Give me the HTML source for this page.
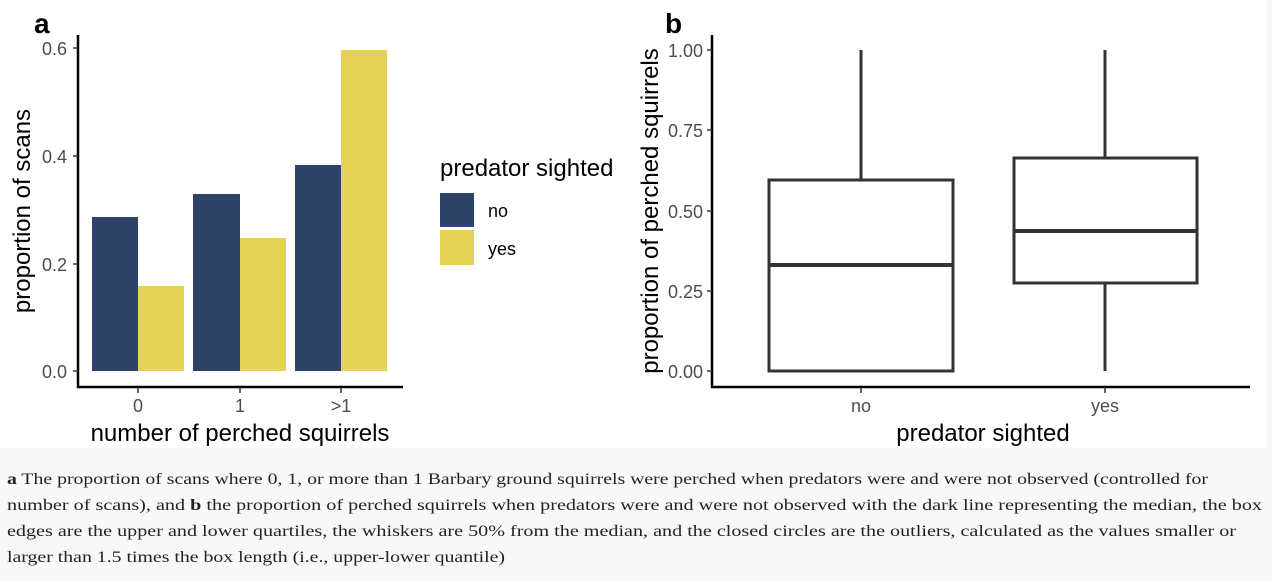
<!DOCTYPE html>
<html><head><meta charset="utf-8"><style>
html,body{margin:0;padding:0;background:#f8f8f8;}
svg{display:block;}
</style></head><body>
<svg width="1272" height="581" xmlns="http://www.w3.org/2000/svg" font-family="Liberation Sans, Arial, sans-serif">
<rect x="0" y="0" width="1272" height="581" fill="#f8f8f8"/>
<rect x="0" y="0" width="1266" height="448" fill="#ffffff"/>
<!-- Panel a -->
<text x="34" y="33" font-size="28" font-weight="bold" fill="#000">a</text>
<rect x="92" y="217" width="46" height="154" fill="#2f4369"/>
<rect x="138" y="286" width="46" height="85" fill="#e4d257"/>
<rect x="193" y="194" width="47" height="177" fill="#2f4369"/>
<rect x="240" y="238" width="46" height="133" fill="#e4d257"/>
<rect x="295" y="165" width="46" height="206" fill="#2f4369"/>
<rect x="341" y="50" width="46" height="321" fill="#e4d257"/>
<line x1="78" y1="35" x2="78" y2="388" stroke="#000" stroke-width="2.5"/>
<line x1="77" y1="387" x2="403" y2="387" stroke="#000" stroke-width="2.5"/>
<g stroke="#333" stroke-width="1.5">
<line x1="73" y1="48" x2="78" y2="48"/><line x1="73" y1="156" x2="78" y2="156"/>
<line x1="73" y1="264" x2="78" y2="264"/><line x1="73" y1="371" x2="78" y2="371"/>
<line x1="138" y1="387" x2="138" y2="393"/><line x1="240" y1="387" x2="240" y2="393"/><line x1="341" y1="387" x2="341" y2="393"/>
</g>
<g font-size="18" fill="#4d4d4d" text-anchor="end">
<text x="67" y="55">0.6</text><text x="67" y="163">0.4</text><text x="67" y="271">0.2</text><text x="67" y="378">0.0</text>
</g>
<g font-size="18" fill="#4d4d4d" text-anchor="middle">
<text x="138" y="412">0</text><text x="240" y="412">1</text><text x="341" y="412">&gt;1</text>
</g>
<text x="240" y="441" font-size="24" text-anchor="middle" fill="#000">number of perched squirrels</text>
<text transform="translate(30,211) rotate(-90)" font-size="24" text-anchor="middle" fill="#000">proportion of scans</text>
<text x="440" y="176" font-size="24" fill="#000">predator sighted</text>
<rect x="440" y="193" width="34" height="34" fill="#2f4369"/>
<rect x="440" y="230" width="34" height="35" fill="#e4d257"/>
<text x="488" y="217" font-size="18" fill="#000">no</text>
<text x="488" y="255" font-size="18" fill="#000">yes</text>
<!-- Panel b -->
<text x="665" y="33" font-size="28" font-weight="bold" fill="#000">b</text>
<g stroke="#333" stroke-width="3" fill="#fff">
<line x1="861" y1="50" x2="861" y2="371"/>
<rect x="769" y="180" width="184" height="191"/>
<line x1="769" y1="265" x2="953" y2="265" stroke-width="4"/>
<line x1="1105" y1="50" x2="1105" y2="371"/>
<rect x="1014" y="158" width="183" height="125"/>
<line x1="1014" y1="231" x2="1197" y2="231" stroke-width="4"/>
</g>
<line x1="712" y1="35" x2="712" y2="388" stroke="#000" stroke-width="2.5"/>
<line x1="711" y1="387" x2="1250" y2="387" stroke="#000" stroke-width="2.5"/>
<g stroke="#333" stroke-width="1.5">
<line x1="707" y1="50" x2="712" y2="50"/><line x1="707" y1="130" x2="712" y2="130"/>
<line x1="707" y1="211" x2="712" y2="211"/><line x1="707" y1="291" x2="712" y2="291"/><line x1="707" y1="371" x2="712" y2="371"/>
<line x1="861" y1="387" x2="861" y2="393"/><line x1="1105" y1="387" x2="1105" y2="393"/>
</g>
<g font-size="18" fill="#4d4d4d" text-anchor="end">
<text x="703" y="57">1.00</text><text x="703" y="137">0.75</text><text x="703" y="218">0.50</text><text x="703" y="298">0.25</text><text x="703" y="378">0.00</text>
</g>
<g font-size="18" fill="#4d4d4d" text-anchor="middle">
<text x="861" y="412">no</text><text x="1105" y="412">yes</text>
</g>
<text x="983" y="441" font-size="24" text-anchor="middle" fill="#000">predator sighted</text>
<text transform="translate(658,211) rotate(-90)" font-size="24" text-anchor="middle" fill="#000">proportion of perched squirrels</text>
<!-- Caption -->
<g font-family="Liberation Serif, Georgia, serif" font-size="16" fill="#222">
<text x="7" y="484" textLength="1201" lengthAdjust="spacingAndGlyphs"><tspan font-weight="bold">a</tspan> The proportion of scans where 0, 1, or more than 1 Barbary ground squirrels were perched when predators were and were not observed (controlled for</text>
<text x="7" y="510" textLength="1255" lengthAdjust="spacingAndGlyphs">number of scans), and <tspan font-weight="bold">b</tspan> the proportion of perched squirrels when predators were and were not observed with the dark line representing the median, the box</text>
<text x="7" y="536" textLength="1229" lengthAdjust="spacingAndGlyphs">edges are the upper and lower quartiles, the whiskers are 50% from the median, and the closed circles are the outliers, calculated as the values smaller or</text>
<text x="7" y="562" textLength="498" lengthAdjust="spacingAndGlyphs">larger than 1.5 times the box length (i.e., upper-lower quantile)</text>
</g>
</svg>
</body></html>
